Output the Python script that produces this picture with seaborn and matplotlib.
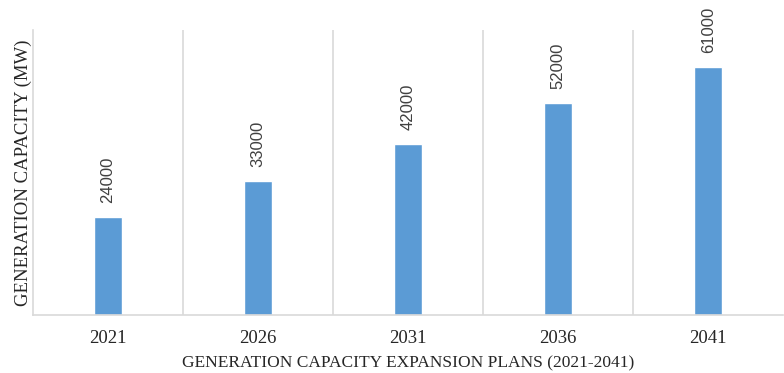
import matplotlib
matplotlib.use("Agg")
import matplotlib.pyplot as plt
from matplotlib.ticker import FixedLocator
import seaborn as sns
import pandas as pd

years = ["2021", "2026", "2031", "2036", "2041"]
capacity = [24000, 33000, 42000, 52000, 61000]

df = pd.DataFrame({"year": years, "capacity": capacity})

sns.set_style("white")
plt.rcParams["font.family"] = ["Liberation Serif", "DejaVu Serif"]

fig = plt.figure(figsize=(7.84, 3.73), dpi=100)
ax = fig.add_axes([0.042, 0.155, 0.957, 0.765])

sns.barplot(data=df, x="year", y="capacity", color="#5B9BD5", width=0.185,
            saturation=1, ax=ax)

ax.set_ylim(0, 70000)
ax.set_xlim(-0.5, len(years) - 0.5)
ax.set_yticks([])

# vertical separators between categories
ax.xaxis.set_minor_locator(FixedLocator([i + 0.5 for i in range(len(years) - 1)]))
ax.grid(True, which="minor", axis="x", color="#d9d9d9", linewidth=1.2)
ax.grid(False, which="major")
ax.tick_params(axis="x", which="both", length=0)

for side in ["top", "right"]:
    ax.spines[side].set_visible(False)
for side in ["left", "bottom"]:
    ax.spines[side].set_color("#d9d9d9")
    ax.spines[side].set_linewidth(1.2)

ax.bar_label(ax.containers[0], labels=[str(v) for v in capacity], rotation=90,
             padding=10, fontsize=12, color="#404040", family="Liberation Sans")

ax.set_xticks(range(len(years)))
ax.set_xticklabels(years, fontsize=13.5, color="#262626")
ax.tick_params(axis="x", pad=11)

ax.set_xlabel("GENERATION CAPACITY EXPANSION PLANS (2021-2041)", fontsize=12.5,
              color="#262626", labelpad=6)
ax.set_ylabel("GENERATION CAPACITY (MW)", fontsize=13.5, color="#262626",
              labelpad=1)

fig.savefig("out.png", dpi=100)
